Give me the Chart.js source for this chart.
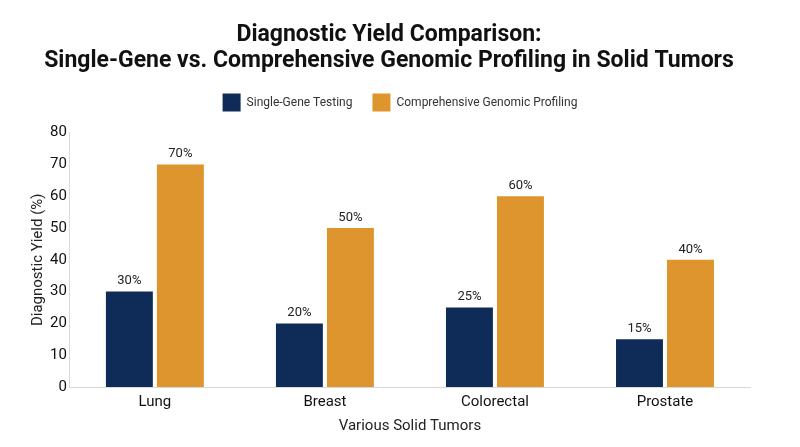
<!DOCTYPE html>
<html>
<head>
<meta charset="utf-8">
<script src="https://cdn.jsdelivr.net/npm/chart.js@4"></script>
<style>
  html, body { margin: 0; padding: 0; background: #fff; }
  #wrap { width: 800px; height: 447px; }
</style>
</head>
<body>
<div id="wrap"><canvas id="chart"></canvas></div>
<script>
// dados
const tumors = ['Lung', 'Breast', 'Colorectal', 'Prostate'];
const singleGene = [30, 20, 25, 15];
const comprehensive = [70, 50, 60, 40];
const yTicks = [0, 10, 20, 30, 40, 50, 60, 70, 80];

const FONT = 'Roboto, "Noto Sans", sans-serif';

// rótulos acima das barras
const valueLabels = {
  id: 'valueLabels',
  afterDatasetsDraw(chart) {
    const ctx = chart.ctx;
    ctx.save();
    ctx.font = '13px ' + FONT;
    ctx.fillStyle = '#222';
    ctx.textAlign = 'center';
    ctx.textBaseline = 'bottom';
    chart.data.datasets.forEach((ds, i) => {
      chart.getDatasetMeta(i).data.forEach((bar, j) => {
        ctx.fillText(ds.data[j] + '%', bar.x, bar.y - 4);
      });
    });
    ctx.restore();
  }
};

// espaço extra abaixo da legenda e recentralização
const legendLayout = {
  id: 'legendLayout',
  beforeInit(chart) {
    const fit = chart.legend.fit;
    chart.legend.fit = function () {
      fit.call(this);
      this.height += 11;
    };
  },
  afterLayout(chart) {
    const shiftLegend = 400 - (chart.legend.left + chart.legend.right) / 2;
    chart.legend.left += shiftLegend;
    chart.legend.right += shiftLegend;
    const shiftTitle = 389 - (chart.titleBlock.left + chart.titleBlock.right) / 2;
    chart.titleBlock.left += shiftTitle;
    chart.titleBlock.right += shiftTitle;
  }
};

new Chart(document.getElementById('chart'), {
  type: 'bar',
  data: {
    labels: tumors,
    datasets: [
      {
        label: 'Single-Gene Testing',
        data: singleGene,
        backgroundColor: '#0f2b57',
        categoryPercentage: 0.6,
        barPercentage: 0.92
      },
      {
        label: 'Comprehensive Genomic Profiling',
        data: comprehensive,
        backgroundColor: '#df952d',
        categoryPercentage: 0.6,
        barPercentage: 0.92
      }
    ]
  },
  options: {
    responsive: true,
    maintainAspectRatio: false,
    animation: false,
    layout: { padding: { left: 25, right: 50, top: 14, bottom: 8 } },
    plugins: {
      title: {
        display: true,
        text: ['Diagnostic Yield Comparison:', 'Single-Gene vs. Comprehensive Genomic Profiling in Solid Tumors'],
        color: '#111',
        font: { family: FONT, size: 23, weight: 'bold', lineHeight: 1.1 },
        padding: { top: 9, bottom: 0 }
      },
      legend: {
        labels: {
          color: '#333',
          font: { family: FONT, size: 12 },
          boxWidth: 18,
          boxHeight: 18,
          padding: 20
        }
      },
      tooltip: { enabled: false }
    },
    scales: {
      x: {
        grid: { display: false, drawTicks: false },
        border: { color: '#d9d9d9' },
        ticks: { color: '#111', font: { family: FONT, size: 15 }, padding: 6 },
        title: {
          display: true,
          text: 'Various Solid Tumors',
          color: '#222',
          font: { family: FONT, size: 15 },
          padding: { top: 0 }
        }
      },
      y: {
        min: 0,
        max: 80,
        afterBuildTicks: axis => { axis.ticks = yTicks.map(v => ({ value: v })); },
        grid: { display: false, drawTicks: false },
        border: { color: '#d9d9d9' },
        ticks: { color: '#111', font: { family: FONT, size: 15 }, padding: 3 },
        title: {
          display: true,
          text: 'Diagnostic Yield (%)',
          color: '#222',
          font: { family: FONT, size: 15 },
          padding: { top: 4, bottom: 0 }
        }
      }
    }
  },
  plugins: [valueLabels, legendLayout]
});
</script>
</body>
</html>
